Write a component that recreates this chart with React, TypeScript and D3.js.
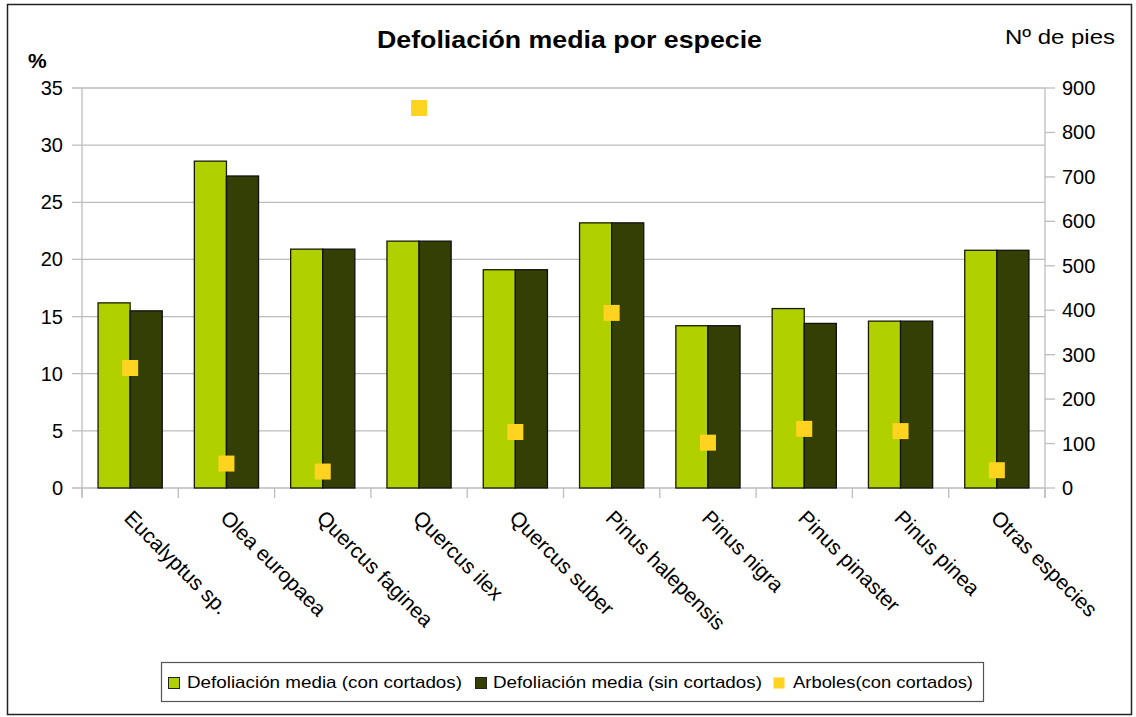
import React, { useEffect, useRef } from 'react';
import * as d3 from 'd3';

const especies = [
    'Eucalyptus sp.',
    'Olea europaea',
    'Quercus faginea',
    'Quercus ilex',
    'Quercus suber',
    'Pinus halepensis',
    'Pinus nigra',
    'Pinus pinaster',
    'Pinus pinea',
    'Otras especies',
];
const conCortados = [16.2, 28.6, 20.9, 21.6, 19.1, 23.2, 14.2, 15.7, 14.6, 20.8];
const sinCortados = [15.5, 27.3, 20.9, 21.6, 19.1, 23.2, 14.2, 14.4, 14.6, 20.8];
const arboles = [270, 55, 37, 855, 126, 394, 102, 133, 128, 40];

const leftTicks = [0, 5, 10, 15, 20, 25, 30, 35];
const rightTicks = [0, 100, 200, 300, 400, 500, 600, 700, 800, 900];

const serieNames = [
    'Defoliación media (con cortados)',
    'Defoliación media (sin cortados)',
    'Arboles(con cortados)',
];

const LIGHT = '#b0d000';
const DARK = '#333f05';
const YELLOW = '#ffd320';

const App: React.FC = () => {
    const svgRef = useRef<SVGSVGElement>(null);

    useEffect(() => {
        if (!svgRef.current) return;
        const width = 1136;
        const height = 717;
        const left = 82;
        const right = 1045;
        const top = 88;
        const bottom = 488;

        const svg = d3.select(svgRef.current);
        svg.selectAll('*').remove();
        svg.attr('width', width).attr('height', height);

        const font = 'Arial, "Liberation Sans", sans-serif';

        // outer frame
        svg.append('rect')
            .attr('x', 7.5).attr('y', 4.5)
            .attr('width', 1124).attr('height', 710)
            .attr('fill', 'white')
            .attr('stroke', '#222')
            .attr('stroke-width', 1.5);

        const x = d3.scaleBand().domain(especies).range([left, right]);
        const inner = d3.scaleBand()
            .domain(['con', 'sin'])
            .range([0, x.bandwidth()])
            .paddingOuter(0.5)
            .paddingInner(0);
        const y = d3.scaleLinear().domain([0, 35]).range([bottom, top]);
        const y2 = d3.scaleLinear().domain([0, 900]).range([bottom, top]);

        // gridlines
        svg.append('g')
            .selectAll('line')
            .data(leftTicks)
            .enter()
            .append('line')
            .attr('x1', left - 10)
            .attr('x2', right)
            .attr('y1', d => y(d))
            .attr('y2', d => y(d))
            .attr('stroke', '#bdbdbd')
            .attr('stroke-width', 1.3);

        // left axis line
        svg.append('line')
            .attr('x1', left).attr('x2', left)
            .attr('y1', top).attr('y2', bottom + 9)
            .attr('stroke', '#bdbdbd').attr('stroke-width', 1.3);

        // category ticks
        svg.append('g')
            .selectAll('line')
            .data(d3.range(especies.length + 1))
            .enter()
            .append('line')
            .attr('x1', i => left + i * x.step())
            .attr('x2', i => left + i * x.step())
            .attr('y1', bottom)
            .attr('y2', bottom + 10)
            .attr('stroke', '#bdbdbd').attr('stroke-width', 1.3);

        // right axis
        svg.append('line')
            .attr('x1', right).attr('x2', right)
            .attr('y1', top).attr('y2', bottom + 10)
            .attr('stroke', '#bdbdbd').attr('stroke-width', 1.3);
        svg.append('g')
            .selectAll('line')
            .data(rightTicks)
            .enter()
            .append('line')
            .attr('x1', right).attr('x2', right + 10)
            .attr('y1', d => y2(d)).attr('y2', d => y2(d))
            .attr('stroke', '#bdbdbd').attr('stroke-width', 1.3);

        // tick labels
        svg.append('g')
            .selectAll('text')
            .data(leftTicks)
            .enter()
            .append('text')
            .attr('x', 63)
            .attr('y', d => y(d))
            .attr('dy', '0.35em')
            .attr('text-anchor', 'end')
            .style('font-family', font)
            .style('font-size', '20px')
            .text(d => d);

        svg.append('g')
            .selectAll('text')
            .data(rightTicks)
            .enter()
            .append('text')
            .attr('x', 1062)
            .attr('y', d => y2(d))
            .attr('dy', '0.35em')
            .attr('text-anchor', 'start')
            .style('font-family', font)
            .style('font-size', '20px')
            .text(d => d);

        // bars
        const groups = svg.append('g')
            .selectAll('g')
            .data(especies)
            .enter()
            .append('g')
            .attr('transform', d => `translate(${x(d)},0)`);

        groups.append('rect')
            .attr('x', inner('con')!)
            .attr('width', inner.bandwidth())
            .attr('y', (_, i) => y(conCortados[i]))
            .attr('height', (_, i) => bottom - y(conCortados[i]))
            .attr('fill', LIGHT)
            .attr('stroke', '#1a1a00')
            .attr('stroke-width', 1.3);

        groups.append('rect')
            .attr('x', inner('sin')!)
            .attr('width', inner.bandwidth())
            .attr('y', (_, i) => y(sinCortados[i]))
            .attr('height', (_, i) => bottom - y(sinCortados[i]))
            .attr('fill', DARK)
            .attr('stroke', '#111')
            .attr('stroke-width', 1.3);

        // markers
        const ms = 16;
        svg.append('g')
            .selectAll('rect')
            .data(especies)
            .enter()
            .append('rect')
            .attr('x', d => x(d)! + x.bandwidth() / 2 - ms / 2)
            .attr('y', (_, i) => y2(arboles[i]) - ms / 2)
            .attr('width', ms)
            .attr('height', ms)
            .attr('fill', YELLOW);

        // category labels
        svg.append('g')
            .selectAll('text')
            .data(especies)
            .enter()
            .append('text')
            .attr('transform', d => `translate(${x(d)! + x.bandwidth() / 2 - 2},${bottom + 26}) rotate(45)`)
            .attr('text-anchor', 'start')
            .attr('dy', '0.35em')
            .style('font-family', font)
            .style('font-size', '21px')
            .text(d => d);

        // titles
        svg.append('text')
            .attr('x', 377).attr('y', 48)
            .attr('textLength', 385)
            .attr('lengthAdjust', 'spacingAndGlyphs')
            .style('font-family', font)
            .style('font-size', '24px')
            .style('font-weight', 'bold')
            .text('Defoliación media por especie');

        svg.append('text')
            .attr('x', 28).attr('y', 68)
            .style('font-family', font)
            .style('font-size', '21px')
            .style('font-weight', 'bold')
            .text('%');

        svg.append('text')
            .attr('x', 1005).attr('y', 44)
            .attr('textLength', 110)
            .attr('lengthAdjust', 'spacingAndGlyphs')
            .style('font-family', font)
            .style('font-size', '21px')
            .text('Nº de pies');

        // legend
        const lg = svg.append('g');
        lg.append('rect')
            .attr('x', 161.5).attr('y', 662.5)
            .attr('width', 822).attr('height', 39)
            .attr('fill', 'white')
            .attr('stroke', '#555')
            .attr('stroke-width', 1.2);

        const legendX = [168, 475, 773];
        const legendTextX = [187, 493, 793];
        const legendLen = [275, 269, 180];
        const legendColors = [LIGHT, DARK, YELLOW];
        serieNames.forEach((name, i) => {
            lg.append('rect')
                .attr('x', legendX[i] + 0.5).attr('y', 677.5)
                .attr('width', 11).attr('height', 11)
                .attr('fill', legendColors[i])
                .attr('stroke', i < 2 ? '#222' : 'none');
            lg.append('text')
                .attr('x', legendTextX[i]).attr('y', 688)
                .attr('textLength', legendLen[i])
                .attr('lengthAdjust', 'spacingAndGlyphs')
                .style('font-family', font)
                .style('font-size', '17px')
                .text(name);
        });
    }, []);

    return (
        <div style={{ position: 'absolute', left: 0, top: 0 }}>
            <svg ref={svgRef}></svg>
        </div>
    );
};

export default App;
